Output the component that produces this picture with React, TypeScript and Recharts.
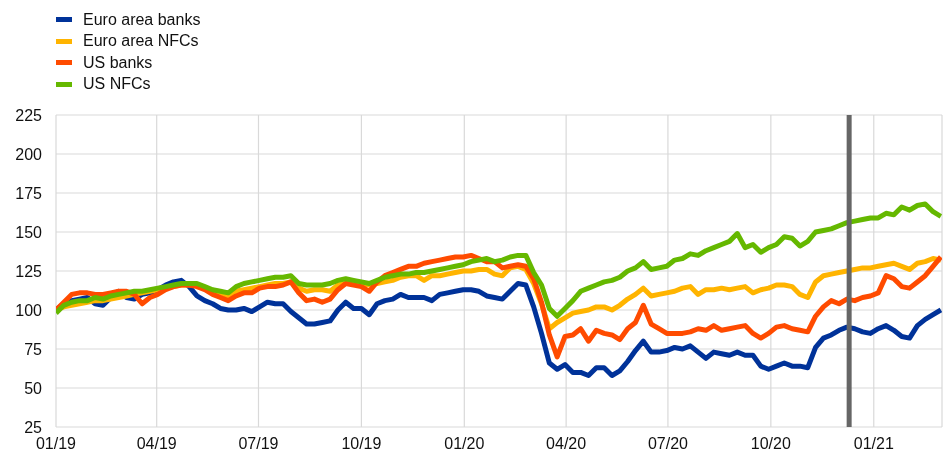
import React from "react";
import { LineChart, Line, XAxis, YAxis, CartesianGrid, ReferenceLine, Legend } from "recharts";

// Weekly observations starting 01/01/2019 (day offsets from that date)
const weekCount = 114;
const days: number[] = Array.from({ length: weekCount }, (_, i) => i * 7);

const euroAreaBanks = [
  100, 104, 106, 107, 108, 104, 103, 108, 112, 108, 107, 110, 111, 113, 116, 118, 119, 115, 109, 106,
  104, 101, 100, 100, 101, 99, 102, 105, 104, 104, 99, 95, 91, 91, 92, 93, 100, 105, 101, 101,
  97, 104, 106, 107, 110, 108, 108, 108, 106, 110, 111, 112, 113, 113, 112, 109, 108, 107, 112, 117,
  116, 102, 85, 66, 62, 65, 60, 60, 58, 63, 63, 58, 61, 67, 74, 80, 73, 73, 74, 76,
  75, 77, 73, 69, 73, 72, 71, 73, 71, 71, 64, 62, 64, 66, 64, 64, 63, 76, 82, 84,
  87, 89, 88, 86, 85, 88, 90, 87, 83, 82, 90, 94, 97, 100,
];

const euroAreaNFCs = [
  100, 102, 103, 104, 105, 106, 106, 107, 108, 109, 110, 111, 112, 113, 114, 115, 116, 116, 116, 114,
  112, 111, 109, 112, 113, 114, 115, 116, 117, 117, 118, 114, 112, 113, 113, 112, 116, 117, 117, 117,
  116, 117, 118, 119, 121, 122, 122, 119, 122, 122, 123, 124, 125, 125, 126, 126, 123, 122, 127, 128,
  126, 117, 104, 88, 92, 95, 98, 99, 100, 102, 102, 100, 103, 107, 110, 114, 109, 110, 111, 112,
  114, 115, 110, 113, 113, 114, 113, 114, 115, 111, 113, 114, 116, 116, 115, 110, 108, 118, 122, 123,
  124, 125, 126, 127, 127, 128, 129, 130, 128, 126, 130, 131, 133, 132,
];

const usBanks = [
  100, 105, 110, 111, 111, 110, 110, 111, 112, 112, 110, 104, 108, 110, 113, 115, 116, 116, 115, 113,
  110, 108, 106, 109, 111, 111, 114, 115, 115, 116, 118, 111, 106, 107, 105, 107, 113, 117, 116, 115,
  112, 118, 122, 124, 126, 128, 128, 130, 131, 132, 133, 134, 134, 135, 133, 131, 131, 127, 128, 129,
  128, 120, 105, 84, 70, 83, 84, 88, 80, 87, 85, 84, 81, 88, 92, 103, 91, 88, 85, 85,
  85, 86, 88, 87, 90, 87, 88, 89, 90, 85, 82, 85, 89, 90, 88, 87, 86, 96, 102, 106,
  104, 107, 106, 108, 109, 111, 122, 120, 115, 114, 118, 122, 128, 134,
];

const usNFCs = [
  98, 103, 105, 106, 106, 108, 107, 109, 110, 111, 112, 112, 113, 114, 115, 116, 117, 117, 117, 115,
  113, 112, 111, 115, 117, 118, 119, 120, 121, 121, 122, 117, 116, 116, 116, 117, 119, 120, 119, 118,
  117, 119, 121, 122, 123, 123, 124, 124, 125, 126, 127, 128, 129, 131, 132, 133, 131, 132, 134, 135,
  135, 124, 116, 101, 96, 101, 106, 112, 114, 116, 118, 119, 121, 125, 127, 131, 126, 127, 128, 132,
  133, 136, 135, 138, 140, 142, 144, 149, 140, 142, 137, 140, 142, 147, 146, 141, 144, 150, 151, 152,
  154, 156, 157, 158, 159, 159, 162, 161, 166, 164, 167, 168, 163, 160,
];

const tickDays = [0, 90, 181, 273, 365, 456, 547, 639, 731];
const tickLabels = ["01/19", "04/19", "07/19", "10/19", "01/20", "04/20", "07/20", "10/20", "01/21"];
const yTicks = [25, 50, 75, 100, 125, 150, 175, 200, 225];
const markerDay = 709; // 10/12/2020

const seriesNames = ["Euro area banks", "Euro area NFCs", "US banks", "US NFCs"];
const seriesKeys = ["eaBanks", "eaNfcs", "usBanks", "usNfcs"];
const seriesColors = ["#003299", "#ffb400", "#ff4b00", "#65b800"];

const data = days.map((d, i) => ({
  day: d,
  eaBanks: euroAreaBanks[i],
  eaNfcs: euroAreaNFCs[i],
  usBanks: usBanks[i],
  usNfcs: usNFCs[i],
}));

const FONT = "'Liberation Sans', Arial, sans-serif";

const LegendContent = () => (
  <div style={{ fontFamily: FONT, fontSize: 16, color: "#111" }}>
    {seriesNames.map((n, i) => (
      <div key={n} style={{ display: "flex", alignItems: "center", height: 21.5 }}>
        <span
          style={{
            display: "inline-block",
            width: 16,
            height: 5,
            background: seriesColors[i],
            marginRight: 11,
          }}
        />
        <span>{n}</span>
      </div>
    ))}
  </div>
);

export default function App() {
  return (
    <div style={{ fontFamily: FONT, position: "fixed", top: 0, left: 0 }}>
      <LineChart
        width={943}
        height={453}
        data={data}
        margin={{ top: 115, right: 1, bottom: 0, left: 0 }}
      >
        <CartesianGrid stroke="#d9d9d9" strokeWidth={1.2} />
        <XAxis
          dataKey="day"
          type="number"
          domain={[0, 792]}
          ticks={tickDays}
          tickFormatter={(v: number) => tickLabels[tickDays.indexOf(v)] ?? ""}
          axisLine={false}
          tickLine={false}
          tickSize={6}
          tickMargin={5}
          height={26}
          interval={0}
          allowDataOverflow
          tick={{ fill: "#111", fontSize: 16, fontFamily: FONT }}
        />
        <YAxis
          type="number"
          domain={[25, 225]}
          ticks={yTicks}
          axisLine={false}
          tickLine={false}
          tickSize={6}
          tickMargin={8}
          width={56}
          interval={0}
          tick={{ fill: "#111", fontSize: 16, fontFamily: FONT }}
        />
        <Legend
          layout="vertical"
          align="center"
          verticalAlign="middle"
          wrapperStyle={{ top: 9, left: 56, width: "auto" }}
          content={<LegendContent />}
        />
        {seriesKeys.map((k, i) => (
          <Line
            key={k}
            dataKey={k}
            name={seriesNames[i]}
            type="linear"
            stroke={seriesColors[i]}
            strokeWidth={5}
            dot={false}
            strokeLinejoin="round"
            isAnimationActive={false}
          />
        ))}
        <ReferenceLine x={markerDay} stroke="#666666" strokeWidth={5} />
      </LineChart>
    </div>
  );
}
